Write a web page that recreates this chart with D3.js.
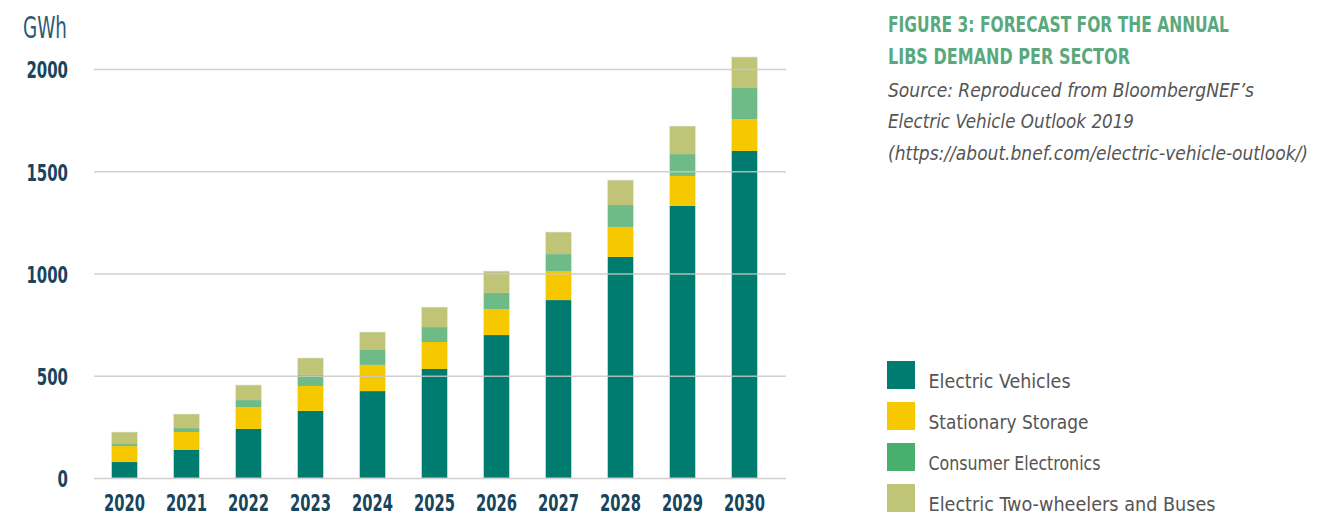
<!DOCTYPE html>
<html lang="en">
<head>
<meta charset="UTF-8">
<title>LIBS demand per sector</title>
<script src="https://cdn.jsdelivr.net/npm/d3@7"></script>
<style>
  body { margin: 0; background: #fff; }
  svg text { font-family: "DejaVu Sans", "Liberation Sans", sans-serif; font-stretch: condensed; }
</style>
</head>
<body>
<svg width="1337" height="516"></svg>
<script>
// data (GWh per year, stacked)
var years = ["2020","2021","2022","2023","2024","2025","2026","2027","2028","2029","2030"];
var evs        = [78, 137, 240, 328, 425, 533, 699, 870, 1081, 1331, 1599];
var stationary = [78,  88, 107, 122, 128, 132, 127, 142,  146,  146,  156];
var consumer   = [10,  19,  34,  54,  73,  73,  79,  83,  108,  107,  152];
var twoWheel   = [59,  69,  74,  83,  88,  98, 107, 108,  122,  137,  152];
var seriesNames = ["Electric Vehicles", "Stationary Storage", "Consumer Electronics", "Electric Two-wheelers and Buses"];
var yTicks = [0, 500, 1000, 1500, 2000];

var barColors    = ["#007b6f", "#f5c800", "#6fbb87", "#c0c477"];
var legendColors = ["#007b6f", "#f5c800", "#48b06e", "#c0c477"];

var svg = d3.select("svg");

// build rows for the stack
var rows = years.map(function(y, i) {
  return { year: y, s0: evs[i], s1: stationary[i], s2: consumer[i], s3: twoWheel[i] };
});
var stack = d3.stack().keys(["s0","s1","s2","s3"]);
var layers = stack(rows);

var x = d3.scaleBand()
  .domain(years)
  .range([93.5, 775.5])
  .paddingInner(0.58)
  .paddingOuter(0.29);

var y = d3.scaleLinear()
  .domain([0, 2000])
  .range([478, 69]);

// bars
svg.append("g").selectAll("g")
  .data(layers)
  .enter().append("g")
  .attr("fill", function(d, i) { return barColors[i]; })
  .selectAll("rect")
  .data(function(d) { return d; })
  .enter().append("rect")
  .attr("x", function(d) { return x(d.data.year); })
  .attr("width", x.bandwidth())
  .attr("y", function(d) { return y(d[1]); })
  .attr("height", function(d) { return y(d[0]) - y(d[1]); });

// thin light edge on the bars
svg.append("g").selectAll("rect")
  .data(rows)
  .enter().append("rect")
  .attr("x", function(d) { return x(d.year); })
  .attr("width", x.bandwidth())
  .attr("y", function(d) { return y(d.s0 + d.s1 + d.s2 + d.s3); })
  .attr("height", function(d) { return y(0) - y(d.s0 + d.s1 + d.s2 + d.s3); })
  .attr("fill", "none")
  .attr("stroke", "#e4efec")
  .attr("stroke-opacity", 0.6)
  .attr("stroke-width", 1);

// grid lines sit over the bars
var yAxis = d3.axisLeft(y)
  .tickValues(yTicks)
  .tickFormat(d3.format("d"))
  .tickSize(-(786 - 94))
  .tickPadding(26);

var gy = svg.append("g")
  .attr("transform", "translate(94,0)")
  .call(yAxis);
gy.select(".domain").remove();
gy.selectAll(".tick line")
  .attr("stroke", "#c8c8c8")
  .attr("stroke-opacity", 0.85)
  .attr("stroke-width", 1.5);
gy.selectAll(".tick text")
  .attr("fill", "#17455c")
  .attr("font-size", 23)
  .attr("font-weight", "bold")
  .attr("dy", "0.38em")
  .attr("textLength", function(d) { return String(d).length * 10.4; })
  .attr("lengthAdjust", "spacingAndGlyphs");

// x axis labels
var xAxis = d3.axisBottom(x).tickSize(0).tickPadding(17);
var gx = svg.append("g")
  .attr("transform", "translate(0,478)")
  .call(xAxis);
gx.select(".domain").remove();
gx.selectAll(".tick text")
  .attr("fill", "#17455c")
  .attr("font-size", 23)
  .attr("font-weight", "bold")
  .attr("dy", "0.71em")
  .attr("textLength", 41)
  .attr("lengthAdjust", "spacingAndGlyphs");

// unit label
svg.append("text")
  .attr("x", 23)
  .attr("y", 38)
  .attr("fill", "#2d5b70")
  .attr("font-size", 30)
  .attr("textLength", 44)
  .attr("lengthAdjust", "spacingAndGlyphs")
  .text("GWh");

// title and source
var titleLines = ["FIGURE 3: FORECAST FOR THE ANNUAL", "LIBS DEMAND PER SECTOR"];
var titleWidths = [341, 242];
svg.append("g").selectAll("text")
  .data(titleLines)
  .enter().append("text")
  .attr("x", 888)
  .attr("y", function(d, i) { return 31.5 + i * 32.5; })
  .attr("fill", "#5aa97e")
  .attr("font-size", 20.5)
  .attr("font-weight", "bold")
  .attr("textLength", function(d, i) { return titleWidths[i]; })
  .attr("lengthAdjust", "spacingAndGlyphs")
  .text(function(d) { return d; });

var sourceLines = ["Source: Reproduced from BloombergNEF\u2019s", "Electric Vehicle Outlook 2019", "(https://about.bnef.com/electric-vehicle-outlook/)"];
var sourceWidths = [366, 246, 420];
svg.append("g").selectAll("text")
  .data(sourceLines)
  .enter().append("text")
  .attr("x", 888)
  .attr("y", function(d, i) { return 96.5 + i * 31.5; })
  .attr("fill", "#555")
  .attr("font-size", 20)
  .attr("font-style", "italic")
  .attr("textLength", function(d, i) { return sourceWidths[i]; })
  .attr("lengthAdjust", "spacingAndGlyphs")
  .text(function(d) { return d; });

// legend
var legendWidths = [142, 160, 172, 287];
var legend = svg.append("g").selectAll("g")
  .data(seriesNames)
  .enter().append("g")
  .attr("transform", function(d, i) { return "translate(887," + (361 + i * 41) + ")"; });
legend.append("rect")
  .attr("width", 28)
  .attr("height", 28)
  .attr("fill", function(d, i) { return legendColors[i]; });
legend.append("text")
  .attr("x", 41.5)
  .attr("y", 27)
  .attr("fill", "#555")
  .attr("font-size", 19.5)
  .attr("textLength", function(d, i) { return legendWidths[i]; })
  .attr("lengthAdjust", "spacingAndGlyphs")
  .text(function(d) { return d; });
</script>
</body>
</html>
